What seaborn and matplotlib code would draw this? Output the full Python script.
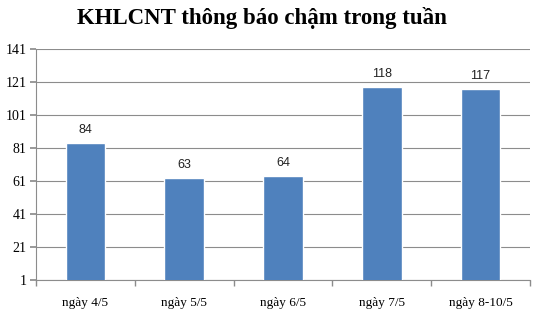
import matplotlib
matplotlib.use("Agg")
import matplotlib.pyplot as plt
import seaborn as sns
import pandas as pd
import numpy as np

categories = ["ngày 4/5", "ngày 5/5", "ngày 6/5", "ngày 7/5", "ngày 8-10/5"]
values = [84, 63, 64, 118, 117]
yticks = [1, 21, 41, 61, 81, 101, 121, 141]
title = "KHLCNT thông báo chậm trong tuần"

sns.set_theme(style="white")
plt.rcParams['font.family'] = ['Liberation Serif', 'DejaVu Serif']
plt.rcParams['text.color'] = 'black'
plt.rcParams['xtick.color'] = 'black'
plt.rcParams['ytick.color'] = 'black'

df = pd.DataFrame({"cat": categories, "val": values})

fig = plt.figure(figsize=(5.4, 3.09), dpi=100)
ax = fig.add_axes([36/540, 1 - 280/309, (530-36)/540, (280-49)/309])

sns.barplot(data=df, x="cat", y="val", color="#4F81BD", saturation=1, width=0.4, ax=ax, zorder=3)

ax.set_ylim(1, 141)
ax.set_xlim(-0.5, len(categories) - 0.5)
ax.set_yticks(yticks)
ax.set_yticklabels([str(t) for t in yticks], fontsize=10)
ax.yaxis.grid(True, color="#8C8C8C", linewidth=0.8, zorder=0)
ax.set_axisbelow(True)

for s in ["top", "right"]:
    ax.spines[s].set_visible(False)
for s in ["left", "bottom"]:
    ax.spines[s].set_color("#8C8C8C")
    ax.spines[s].set_linewidth(0.8)

ax.tick_params(axis="y", which="major", left=True, length=4, color="#8C8C8C", labelcolor="black", pad=3)
ax.set_xticks(range(len(categories)))
ax.set_xticklabels(categories, fontsize=9.5)
ax.tick_params(axis="x", which="major", bottom=False, labelcolor="black", pad=6)
ax.set_xticks(np.arange(-0.5, len(categories)), minor=True)
ax.tick_params(axis="x", which="minor", bottom=True, length=4, color="#8C8C8C")
ax.set_xlabel("")
ax.set_ylabel("")

for c in ax.containers:
    ax.bar_label(c, labels=[str(v) for v in values], padding=5, fontsize=9,
                 color="#222222", family=['Liberation Sans', 'DejaVu Sans'])

fig.text(262/540, 1 - 18/309, title, ha="center", va="center", fontsize=16.5,
         fontweight="bold", color="black", family=['Liberation Serif', 'DejaVu Serif'])

fig.savefig("out.png", dpi=100)
